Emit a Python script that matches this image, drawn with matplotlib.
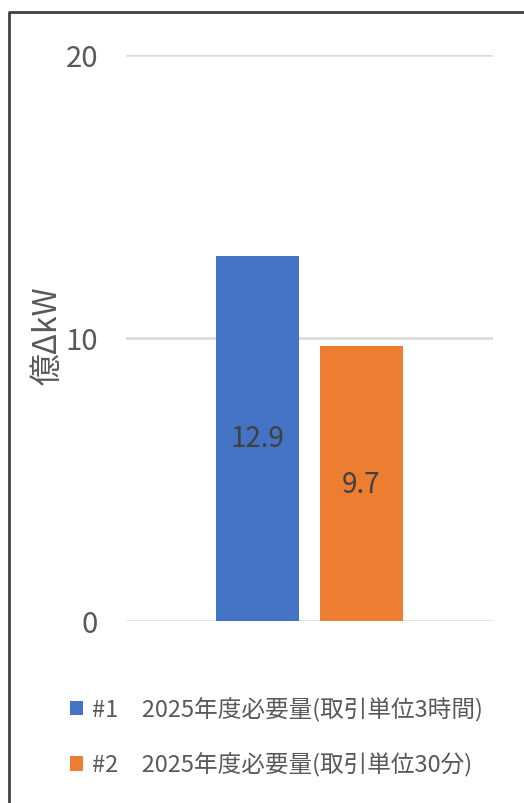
import matplotlib
matplotlib.use("Agg")
import matplotlib.pyplot as plt
from matplotlib.patches import Patch
from matplotlib.lines import Line2D

plt.rcParams['font.family'] = ['Noto Sans CJK JP', 'DejaVu Sans']

series_ids = ["#1", "#2"]
series_names = ["2025年度必要量(取引単位3時間)", "2025年度必要量(取引単位30分)"]
values = [12.9, 9.7]
colors = ["#4472C4", "#ED7D31"]
yticks = [0, 10, 20]
ylabel = "億ΔkW"

W, H = 524, 804
fig = plt.figure(figsize=(W / 100, H / 100), dpi=100)
ax = fig.add_axes([126 / W, 1 - 622 / H, 367 / W, 566 / H])

x = list(range(len(values)))
bars = ax.bar(x, values, width=0.8, color=colors, zorder=3)
ax.bar_label(bars, labels=[f"{v:.1f}" for v in values], label_type='center',
             fontsize=20, color='#404040')

ax.set_xlim(-1.265, 2.265)
ax.set_ylim(0, 20)
ax.set_yticks(yticks)
ax.set_xticks([])
ax.tick_params(axis='y', length=0, pad=20, labelsize=21, labelcolor='#595959')
ax.grid(axis='y', color='#D9D9D9', linewidth=1.8, zorder=0)
for s in ax.spines.values():
    s.set_visible(False)

ax.set_ylabel(ylabel, fontsize=23, color='#595959')
ax.yaxis.set_label_coords(-0.17, 0.505)

handles = [Patch(facecolor=c, edgecolor='none') for c in colors]
labels = [f"{i}\u3000{n}" for i, n in zip(series_ids, series_names)]
fig.legend(handles, labels, loc='upper left', bbox_to_anchor=(70 / W, 1 - 698 / H),
           frameon=False, fontsize=17, labelcolor='#595959',
           handlelength=0.55, handleheight=0.55, handletextpad=0.4,
           labelspacing=1.3, borderpad=0, borderaxespad=0)

# outer border (left and top edges visible)
fig.add_artist(Line2D([9 / W, 9 / W, 1.0], [0.0, 1 - 13 / H, 1 - 13 / H],
                      transform=fig.transFigure, color='#404040', linewidth=2.0))

fig.savefig("out.png", dpi=100)
